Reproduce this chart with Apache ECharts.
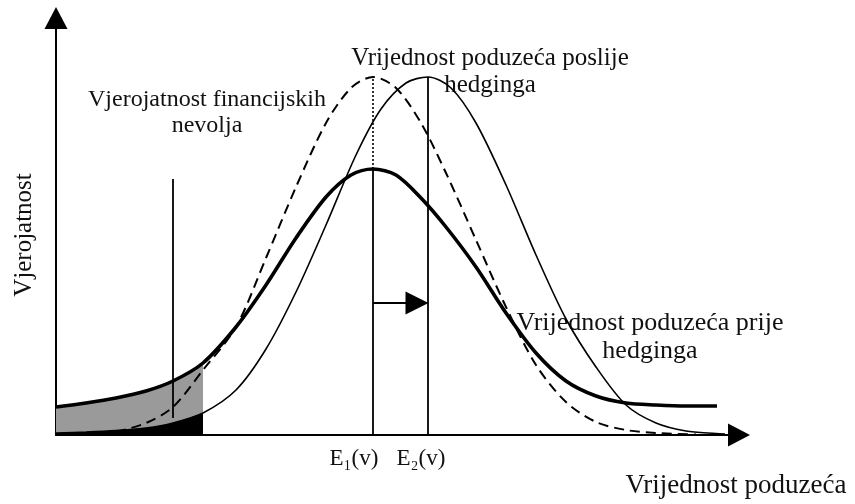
<!DOCTYPE html>
<html>
<head>
<meta charset="utf-8">
<script src="https://cdn.jsdelivr.net/npm/echarts@6/dist/echarts.min.js"></script>
<style>
  html, body { margin: 0; padding: 0; background: #fff; }
  #chart { width: 855px; height: 504px; }
</style>
</head>
<body>
<div id="chart"></div>
<script>
// curve points, [value of firm, probability] in the diagram's own units
const beforeHedging = [[0, 28], [30, 32], [60, 37], [90, 44], [117, 54], [147, 72], [180, 108], [210, 150],
  [240, 197], [270, 238], [295, 260], [317, 266], [340, 260], [365, 237], [390, 208], [420, 168], [450, 122],
  [480, 82], [510, 54], [540, 39], [570, 32], [600, 30], [630, 29], [661, 29]];
const afterHedging = [[0, 2], [30, 3], [60, 4.5], [90, 7], [117, 12], [147, 22], [180, 45], [210, 86],
  [240, 143], [270, 210], [300, 280], [325, 326], [350, 352], [372, 358], [395, 347], [420, 312], [450, 250],
  [480, 180], [510, 116], [540, 68], [570, 30], [600, 12], [630, 4], [660, 1.5], [669, 1]];
const shiftedCurve = [[60, 3], [90, 12], [117, 28], [147, 65], [180, 108], [210, 177], [240, 248], [270, 312],
  [295, 347], [317, 358], [340, 347], [365, 312], [390, 262], [420, 195], [450, 128], [480, 70], [510, 33],
  [540, 13], [570, 5], [600, 2], [640, 0.5]];

const distressCut = 147;          // right edge of shaded distress zone
const distressMarker = [[117, 17], [117, 256]];
const e1Solid = [[317, 0], [317, 266]];
const e1Dotted = [[317, 266], [317, 358]];
const e2Line = [[372, 0], [372, 358]];
const shiftShaft = [[317, 132], [362, 132]];
const shiftHead = [[361, 132]];

const labels = {
  distress: 'Vjerojatnost financijskih\nnevolja',
  after: 'Vrijednost poduzeća poslije\nhedginga',
  before: 'Vrijednost poduzeća prije\nhedginga',
  xName: 'Vrijednost poduzeća',
  yName: 'Vjerojatnost',
  e1: 'E₁(v)',
  e2: 'E₂(v)'
};

const chart = echarts.init(document.getElementById('chart'));
const font = 'Liberation Serif';
const ink = '#111';
const smoothness = 0.3;

const plainLine = (data, extra) => Object.assign({
  type: 'line', data: data, symbol: 'none', silent: true, animation: false,
  lineStyle: { color: '#000', width: 1.8 }
}, extra);

const txt = (text, x, y, size, extra) => Object.assign({
  type: 'text', x: x, y: y, silent: true,
  style: { text: text, fill: ink, font: size + 'px "' + font + '"', align: 'center', verticalAlign: 'middle', lineHeight: size + 2 }
}, extra);

const option = {
  backgroundColor: '#fff',
  animation: false,
  grid: { left: 56, right: 116, top: 18, bottom: 69 },
  xAxis: {
    type: 'value', min: 0, max: 683,
    axisLine: { show: true, onZero: false, symbol: ['none', 'triangle'], symbolSize: [23, 22], lineStyle: { color: '#000', width: 2 } },
    axisTick: { show: false }, axisLabel: { show: false }, splitLine: { show: false }
  },
  yAxis: {
    type: 'value', min: 0, max: 417,
    axisLine: { show: true, onZero: false, symbol: ['none', 'triangle'], symbolSize: [23, 22], lineStyle: { color: '#000', width: 2 } },
    axisTick: { show: false }, axisLabel: { show: false }, splitLine: { show: false }
  },
  series: [
    plainLine(beforeHedging.filter(p => p[0] <= distressCut), {
      smooth: smoothness, lineStyle: { width: 0 }, areaStyle: { color: '#9a9a9a', opacity: 1 }, z: 1
    }),
    plainLine(afterHedging.filter(p => p[0] <= distressCut), {
      smooth: smoothness, lineStyle: { width: 0 }, areaStyle: { color: '#000', opacity: 1 }, z: 2
    }),
    plainLine(shiftedCurve, { smooth: smoothness, lineStyle: { color: '#000', width: 2, type: [10, 6] }, z: 3 }),
    plainLine(afterHedging, { smooth: smoothness, lineStyle: { color: '#000', width: 1.6 }, z: 3 }),
    plainLine(beforeHedging, { smooth: smoothness, lineStyle: { color: '#000', width: 3.6 }, z: 4 }),
    plainLine(distressMarker, { z: 5 }),
    plainLine(e1Solid, { z: 5 }),
    plainLine(e1Dotted, { lineStyle: { color: '#000', width: 1.6, type: [2, 2] }, z: 5 }),
    plainLine(e2Line, { z: 5 }),
    plainLine(shiftShaft, { z: 5 }),
    {
      type: 'scatter', data: shiftHead, symbol: 'triangle', symbolRotate: -90, symbolSize: [23, 23],
      itemStyle: { color: '#000', opacity: 1 }, silent: true, animation: false, z: 6
    }
  ],
  graphic: [
    txt(labels.distress, 207, 113, 24),
    txt(labels.after, 490, 72, 25),
    txt(labels.before, 650, 337, 26),
    txt(labels.xName, 736, 486, 27),
    txt(labels.e1, 354, 459, 23),
    txt(labels.e2, 421, 459, 23),
    txt(labels.yName, 24, 235, 25, { rotation: Math.PI / 2 })
  ]
};

chart.setOption(option);
</script>
</body>
</html>
